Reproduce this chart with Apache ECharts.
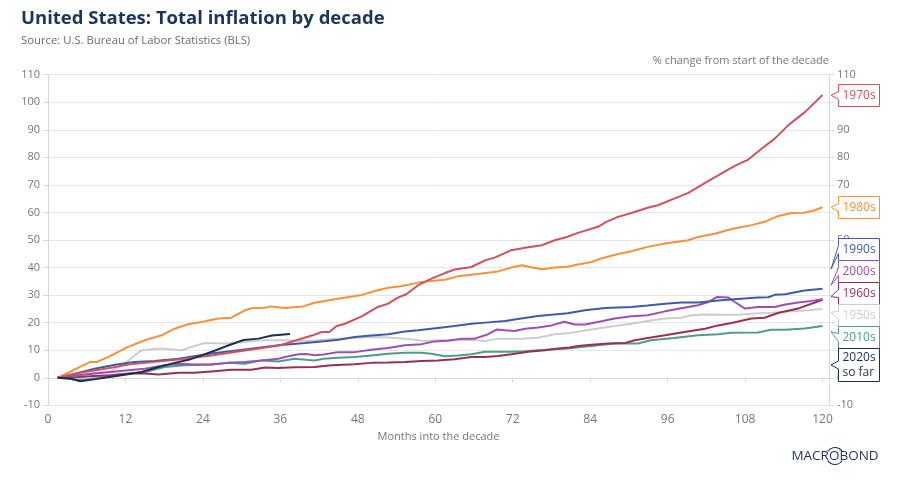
<!DOCTYPE html>
<html><head><meta charset="utf-8">
<script src="https://cdn.jsdelivr.net/npm/echarts@6/dist/echarts.min.js"></script>
<style>html,body{margin:0;padding:0;background:#fff}#c{width:914px;height:497px}</style>
</head><body><div id="c"></div>
<script>
// ---- data: [month into decade, % change from start of decade] ----
const d1950s = [[1.5,0],[4.7,0.9],[7.2,1.7],[9.8,2.4],[11.9,5.1],[13.4,8.1],[14.5,10],[17.6,10.6],[20.7,10],[22.7,11.5],[24.3,12.6],[27.4,12.4],[30.5,13],[33.1,13.6],[36.7,13.6],[40.5,13.3],[44.9,14.2],[50.1,14.8],[52.7,14.6],[55.3,14.2],[58.4,13.3],[60.4,13.6],[65.6,13.8],[67.7,13.3],[69.7,14.2],[73.4,14.2],[75.9,14.5],[78.5,15.8],[80.8,16.2],[82.7,17],[85.2,17.9],[87.8,18.8],[90.4,19.6],[92.9,20.6],[95.6,21.5],[98.1,21.8],[99.7,22.7],[101.8,23],[104.3,22.9],[106.9,22.9],[109.5,23.3],[112,23.6],[115.2,24.1],[117.8,24.5],[120,25]];
const d1960s = [[1.5,0],[4.7,0.3],[7.2,0.6],[9.8,0.9],[12.9,1.5],[15,1.5],[17.1,1.2],[20.2,1.8],[22.7,1.8],[25.3,2.3],[28.4,2.9],[31.5,2.9],[33.6,3.7],[35.7,3.5],[38.2,3.8],[41.3,3.9],[43.9,4.5],[47.5,4.9],[50.1,5.4],[52.7,5.5],[55.3,5.7],[57.9,6.1],[60.4,6.3],[63,6.7],[65.6,7.5],[67.7,7.5],[69.7,7.9],[71.8,8.5],[74.4,9.4],[77,10],[79,10.6],[80.8,11],[82.1,11.5],[84.2,12],[86.8,12.4],[89.4,12.6],[90.9,13.6],[93.4,14.6],[95.6,15.4],[98.6,16.6],[101.8,17.8],[103.8,19],[105.9,19.9],[109,21.5],[111,21.8],[113.1,23.5],[116.2,25.1],[120,28.3]];
const d1970s = [[1.5,0],[4.7,1.7],[9.8,3.6],[12.4,4.8],[15,5.4],[20.2,6.6],[25.3,8.1],[30.5,9.9],[35.8,11.7],[38.5,13.6],[41,15.4],[42.4,16.6],[43.6,16.6],[44.7,18.8],[46,19.6],[48.6,22.3],[51.1,25.7],[52.7,26.9],[54.2,29.1],[55.5,30.3],[57.3,33.5],[59.4,36],[61.5,38],[63,39.3],[65.6,40.2],[67.7,42.6],[69.2,43.6],[71.8,46.3],[73.9,47.2],[76.5,48.1],[78.5,49.9],[80.5,51.2],[82.1,52.6],[85.2,54.8],[86.5,56.6],[88.3,58.4],[90.4,59.8],[92.9,61.7],[94.5,62.6],[97,65],[99.2,67.1],[101.8,70.7],[104.3,74.1],[106.4,76.9],[108.5,79.2],[110.6,83.2],[112.6,86.8],[114.7,91.7],[117.3,96.5],[120,102.6]];
const d1980s = [[1.5,0],[4.65,3.6],[6.5,5.7],[7.5,5.7],[9.3,7.5],[12.4,11.2],[15,13.6],[17.6,15.4],[19.6,17.8],[21.7,19.4],[23.8,20.2],[26.4,21.5],[28.4,21.8],[30.5,24.5],[31.5,25.2],[33.6,25.4],[34.6,25.9],[36.7,25.3],[39.5,25.9],[41.3,27.2],[44.9,28.7],[48.6,30],[50.6,31.5],[52.7,32.7],[54.7,33.2],[57.9,34.8],[61.5,35.6],[63.5,36.8],[65.6,37.4],[69.7,38.6],[71.8,40],[73.4,40.8],[75,40],[76.5,39.4],[78.5,40],[80.5,40.3],[82.1,41.1],[84.2,42],[85.7,43.3],[88.3,44.9],[90.4,45.9],[92.9,47.5],[95.6,48.7],[99.2,49.9],[100.7,51.1],[103.3,52.3],[105.9,54],[109,55.4],[111,56.6],[113,58.6],[115.2,59.8],[117.2,59.9],[118.8,60.8],[120,61.9]];
const d1990s = [[1.5,0],[4.7,1.7],[7.2,3.3],[10.6,4.8],[13.4,5.7],[16.5,6.1],[20.2,6.9],[25.3,8.8],[30.5,10.3],[35.7,11.8],[39.8,12.6],[42.4,13.2],[45,13.8],[47.5,14.8],[50.1,15.3],[52.7,15.8],[55.3,16.8],[57.3,17.2],[60.4,18.1],[63,18.8],[65.6,19.6],[68.2,20.1],[70.8,20.6],[72.8,21.3],[75.9,22.4],[80.5,23.4],[83.2,24.5],[86.3,25.3],[90.4,25.7],[92.9,26.2],[95.6,26.9],[98.1,27.3],[100.7,27.3],[104.3,28.1],[106.9,28.6],[110,29.1],[111.6,29.2],[112.6,30.1],[114.2,30.3],[117.2,31.7],[120,32.3]];
const d2000s = [[1.5,0],[4.7,0.9],[7.2,1.5],[9.8,2.1],[12.4,2.7],[15,3.3],[18.1,4.5],[20.2,5.1],[22.7,4.8],[25.3,4.8],[27.9,5.4],[30.5,5.7],[33.1,6.3],[35.7,6.9],[36.7,7.5],[38.8,8.5],[40,8.6],[41.3,8.2],[42.7,8.4],[44.9,9.3],[47.5,9.3],[50.1,10.2],[52.7,10.8],[55.3,11.8],[57.9,12.2],[59.9,13.2],[62,13.4],[64.1,14.2],[66.1,14.2],[68.2,15.8],[69.5,17.5],[70.8,17.2],[72.3,17],[73.9,17.8],[75.9,18.2],[78,19],[80,20.3],[81.6,19.3],[83.2,19.3],[85.2,20.2],[87.8,21.5],[90.4,22.3],[92.9,22.7],[95.6,24.1],[98.1,25.2],[100.7,26.3],[102.3,27.5],[103.6,29.3],[105.4,29.1],[106.4,27.5],[108,25.1],[110,25.7],[112.6,25.7],[114.2,26.6],[116.2,27.3],[118.3,27.9],[120,28.5]];
const d2010s = [[1.5,0],[4.2,-0.6],[5.7,-0.7],[7.8,-0.1],[9.8,0.9],[12.4,1.5],[15,2.1],[18.1,3.9],[21.2,4.5],[25.3,4.8],[27.9,5.4],[30.5,5.1],[33.1,6.3],[35.7,5.9],[38.2,6.9],[41.3,6.3],[42.7,6.9],[44.9,7.3],[47.5,7.5],[50.1,8.1],[52.7,8.7],[55.3,9.1],[57.9,9.1],[59.4,8.7],[61.5,7.8],[63.5,8.1],[65.6,8.5],[67.7,9.4],[71.8,9.4],[73.9,9.6],[75.9,10],[78.5,10.3],[80.5,10.6],[82.7,11.2],[85.2,11.8],[87.8,12.4],[91.4,12.4],[93.4,13.6],[97,14.4],[100.7,15.4],[103.8,15.8],[105.9,16.3],[110,16.4],[112,17.4],[114.2,17.4],[117.2,17.9],[120,18.8]];
const d2020s = [[1.5,0],[3.4,-0.3],[5.0,-1.3],[7.4,-0.5],[9.8,0.4],[11.9,1.1],[14.5,2.1],[17,3.8],[19.6,5.4],[21.8,6.5],[23.9,8.2],[26,10],[28,11.8],[30.3,13.7],[32.6,14.2],[34.7,15.3],[37.5,15.9]];

const seriesNames  = ['1950s','2010s','1960s','2000s','1990s','1980s','1970s','2020s'];
const seriesLabels = ['1950s','2010s','1960s','2000s','1990s','1980s','1970s','2020s\nso far'];
const seriesData   = [d1950s, d2010s, d1960s, d2000s, d1990s, d1980s, d1970s, d2020s];
const seriesColors = ['#cdcdcd','#4e9e86','#9a2f55','#9a50b6','#3e5ca6','#f7913a','#d1515c','#1c2f50'];

const xTicks = [0,12,24,36,48,60,72,84,96,108,120];
const title = 'United States: Total inflation by decade';
const source = 'Source: U.S. Bureau of Labor Statistics (BLS)';
const unitText = '% change from start of the decade';
const xName = 'Months into the decade';

const FONT = "'Open Sans', 'DejaVu Sans', sans-serif";
const NAVY = '#1b355f';
const GREY = '#767676';

const yAxisBase = {
  type: 'value', min: -10, max: 110, interval: 10,
  axisLine: { show: true, lineStyle: { color: '#d8d8d8' } },
  axisTick: { show: true, length: 5, lineStyle: { color: '#d8d8d8' } },
  axisLabel: { color: GREY, fontSize: 11, fontFamily: FONT, margin: 8 }
};

const option = {
  animation: false,
  backgroundColor: '#fff',
  title: [
    { text: title, left: 16, top: 4, textStyle: { fontSize: 18.5, fontWeight: 'bold', color: NAVY, fontFamily: FONT } },
    { text: source, left: 16, top: 30, textStyle: { fontSize: 11.3, fontWeight: 'normal', color: '#6a6a6a', fontFamily: FONT } },
    { text: unitText, right: 80, top: 50, textStyle: { fontSize: 11, fontWeight: 'normal', color: GREY, fontFamily: FONT } }
  ],
  grid: { left: 48, right: 85, top: 74.7, bottom: 91.7, containLabel: false },
  xAxis: {
    type: 'value', min: 0, max: 121, interval: 12,
    name: xName, nameLocation: 'middle', nameGap: 26,
    nameTextStyle: { color: GREY, fontSize: 11, fontFamily: FONT },
    axisLine: { show: true, lineStyle: { color: '#d8d8d8' } },
    axisTick: { show: true, length: 5, lineStyle: { color: '#d8d8d8' } },
    axisLabel: { color: GREY, fontSize: 12, fontFamily: FONT, margin: 8,
      formatter: v => xTicks.indexOf(v) >= 0 ? String(v) : '' },
    splitLine: { show: false }
  },
  yAxis: [
    Object.assign({}, yAxisBase, { position: 'left', splitLine: { show: true, lineStyle: { color: '#e6e6e6', width: 1 } } }),
    Object.assign({}, yAxisBase, { position: 'right', splitLine: { show: false } })
  ],
  series: seriesNames.map((n, i) => ({
    name: n, type: 'line', data: seriesData[i], showSymbol: false, symbol: 'none',
    lineStyle: { width: 2, color: seriesColors[i] }, itemStyle: { color: seriesColors[i] },
    z: 2 + i
  }))
};

const chart = echarts.init(document.getElementById('c'));
chart.setOption(option);

// ---- callout labels at the right end of each line ----
function buildLabels() {
  const rect = chart.getModel().getComponent('grid').coordinateSystem.getRect();
  const right = rect.x + rect.width;
  const items = seriesNames.map((n, i) => {
    const data = seriesData[i];
    const last = data[data.length - 1];
    const p = chart.convertToPixel({ seriesIndex: i }, last);
    const lines = seriesLabels[i].split('\n').length;
    return { i, endY: p[1], h: lines === 1 ? 22 : 33, complete: last[0] >= 119 };
  });
  items.sort((a, b) => a.endY - b.endY);
  let clusters = items.map(it => ({ items: [it], top: it.endY - it.h / 2, H: it.h }));
  let merged = true;
  while (merged) {
    merged = false;
    for (let k = 0; k < clusters.length - 1; k++) {
      const a = clusters[k], b = clusters[k + 1];
      if (a.top + a.H > b.top) {
        const its = a.items.concat(b.items);
        const H = a.H + b.H;
        const mean = its.reduce((t, x) => t + x.endY, 0) / its.length;
        clusters.splice(k, 2, { items: its, top: mean - H / 2, H });
        merged = true; break;
      }
    }
  }
  const els = [];
  const x0 = Math.round(right + 9) + 0.5, w = 41, tipX = right + 2;
  clusters.forEach(c => {
    let y = c.top;
    c.items.forEach(it => {
      const top = Math.round(y) + 0.5, h = it.h, cy = top + h / 2;
      const tipY = it.complete ? (cy + it.endY) / 2 : cy;
      const col = seriesColors[it.i];
      els.push({
        type: 'polygon', z: 100,
        shape: { points: [[x0, top], [x0 + w, top], [x0 + w, top + h], [x0, top + h], [x0, cy + 4], [tipX, tipY], [x0, cy - 4]] },
        style: { fill: '#fff', stroke: col, lineWidth: 1 }
      });
      els.push({
        type: 'text', z: 101,
        style: { text: seriesLabels[it.i], x: x0 + 4, y: cy, verticalAlign: 'middle', align: 'left',
          fill: col, font: '12px ' + FONT, lineHeight: 15 }
      });
      y += h;
    });
  });
  // logo
  const lx = 835, ly = 456;
  els.push({ type: 'text', z: 101, style: { text: 'MACROBOND', x: lx, y: ly, align: 'center', verticalAlign: 'middle', fill: NAVY, font: '13.5px ' + FONT } });
  els.push({ type: 'arc', z: 101, shape: { cx: lx, cy: ly, r: 8.5, startAngle: Math.PI + 0.55, endAngle: 2 * Math.PI - 0.55 }, style: { stroke: NAVY, fill: null, lineWidth: 1.2 } });
  els.push({ type: 'arc', z: 101, shape: { cx: lx, cy: ly, r: 8.5, startAngle: 0.55, endAngle: Math.PI - 0.55 }, style: { stroke: NAVY, fill: null, lineWidth: 1.2 } });
  chart.setOption({ graphic: { elements: els } });
}
buildLabels();
</script>
</body></html>
